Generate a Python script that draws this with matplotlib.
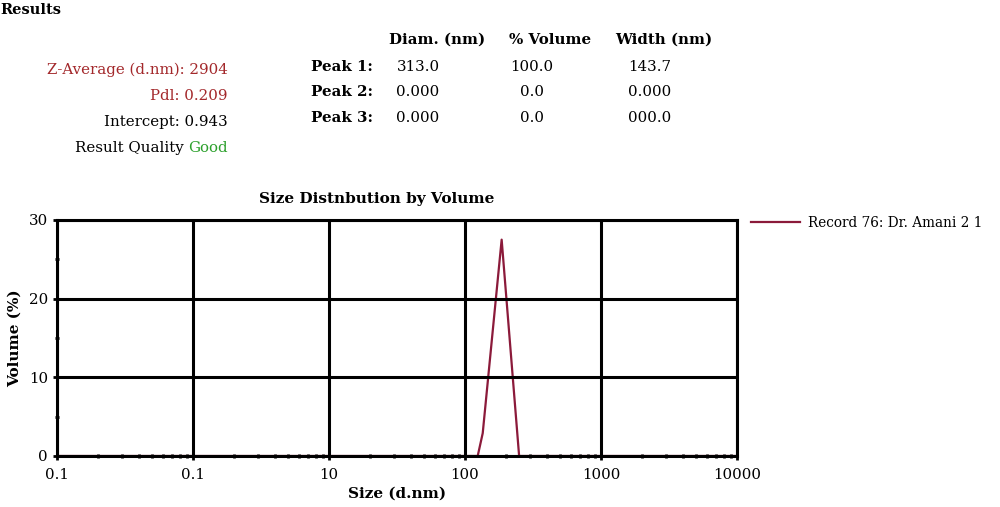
import matplotlib.pyplot as plt
import numpy as np
from matplotlib.ticker import FixedLocator, NullFormatter

# size distribution
size_nm = [0.1, 100, 124, 135, 186, 250, 1000, 10000]
volume_pct = [0, 0, 0, 2.9, 27.5, 0, 0, 0]

xtick_vals = [0.1, 1, 10, 100, 1000, 10000]
xtick_labels = ['0.1', '0.1', '10', '100', '1000', '10000']   # as printed on the original
ytick_vals = [0, 10, 20, 30]

left_lines = [('Z-Average (d.nm): 2904', '#a3282b'),
              ('Pdl: 0.209', '#a3282b'),
              ('Intercept: 0.943', 'black')]
col_heads = ['Diam. (nm)', '% Volume', 'Width (nm)']
row_heads = ['Peak 1:', 'Peak 2:', 'Peak 3:']
table_vals = [['313.0', '100.0', '143.7'],
              ['0.000', '0.0', '0.000'],
              ['0.000', '0.0', '000.0']]

font = 'DejaVu Serif'
plt.rcParams['font.family'] = font

fig = plt.figure(figsize=(10, 5.07), dpi=100)
W, H = 1000, 507


def put(x, y, s, **kw):
    fig.text(x / W, 1 - y / H, s, va='center', **kw)


put(0, 10, 'Results', fontsize=10.5, fontweight='bold')
for i, (s, c) in enumerate(left_lines):
    put(228, 70 + i * 26, s, color=c, fontsize=10.8, ha='right')
put(228, 148, 'Good', color='#2ca02c', fontsize=10.8, ha='right')
put(184, 148, 'Result Quality', color='black', fontsize=10.8, ha='right')

col_x = [437, 550, 664]
val_x = [418, 532, 650]
for cx, s in zip(col_x, col_heads):
    put(cx, 40, s, fontsize=10.8, fontweight='bold', ha='center')
for r, lab in enumerate(row_heads):
    yy = 67 + r * 25.5
    put(311, yy, lab, fontsize=10.8, fontweight='bold', ha='left')
    for vx, s in zip(val_x, table_vals[r]):
        put(vx, yy, s, fontsize=10.8, ha='center')

ax = fig.add_axes([0.057, 0.1006, 0.68, 0.4655])
ax.plot(size_nm, volume_pct, color='#8b1a3a', lw=1.6, zorder=1,
        label='Record 76: Dr. Amani 2 1')
ax.set_xscale('log')
ax.set_xlim(0.1, 10000)
ax.set_ylim(0, 30)
ax.set_xticks(xtick_vals)
ax.set_xticklabels(xtick_labels)
ax.set_yticks(ytick_vals)
minors = [m * 10.0 ** e for e in range(-1, 4) for m in range(2, 10)]
ax.xaxis.set_minor_locator(FixedLocator(minors))
ax.xaxis.set_minor_formatter(NullFormatter())
ax.yaxis.set_minor_locator(FixedLocator([5, 15, 25]))
ax.grid(True, which='major', color='black', lw=2.2, zorder=2)
ax.set_axisbelow(False)
for sp in ax.spines.values():
    sp.set_linewidth(2.2)
    sp.set_zorder(3)
ax.tick_params(which='major', length=3, width=2, labelsize=10.8, direction='out')
ax.tick_params(axis='x', which='major', pad=6)
ax.tick_params(which='minor', length=3, width=2, direction='inout')
ax.set_xlabel('Size (d.nm)', fontsize=11, fontweight='bold', labelpad=3)
ax.set_ylabel('Volume (%)', fontsize=11, fontweight='bold', labelpad=5)
ax.set_title('Size Distnbution by Volume', fontsize=11, fontweight='bold',
             x=0.47, pad=12)
ax.legend(loc='upper left', bbox_to_anchor=(1.002, 1.07), frameon=False,
          fontsize=9.8, handlelength=3.6, handletextpad=0.6)

fig.savefig('out.png', dpi=100)
